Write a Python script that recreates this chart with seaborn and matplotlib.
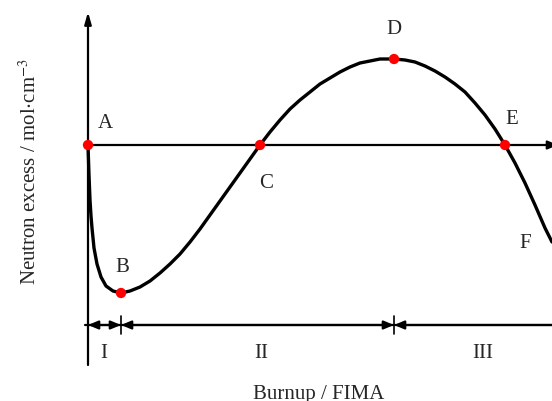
import matplotlib
matplotlib.use("Agg")
import matplotlib.pyplot as plt
import seaborn as sns
import pandas as pd

# Conceptual neutron-excess curve (arbitrary units)
burnup = [0, 1, 2, 3, 4, 6, 9, 13, 18, 25, 33, 42, 52, 62, 72, 82, 92, 102,
          112, 122, 132, 142, 152, 162, 172, 182, 192, 202, 212, 222, 232, 242,
          252, 262, 272, 282, 292, 306, 317, 327, 337, 347, 357, 367, 377, 387,
          397, 407, 417, 427, 437, 447, 457, 464]
excess = [0, -30, -55, -71, -83, -103, -119, -132, -141, -146, -148, -146,
          -142, -136, -128, -119, -109, -97, -84, -70, -56, -42, -28, -14, 0,
          13, 25, 36, 45, 53, 61, 67, 73, 78, 82, 84, 86, 86, 85, 83, 79, 74,
          68, 61, 53, 42, 30, 16, 0, -18, -38, -60, -83, -97]

# marked points
point_names = ["A", "B", "C", "D", "E"]
point_x = [0, 33, 172, 306, 417]
point_y = [0, -148, 0, 86, 0]

# letter labels
label_names = ["A", "B", "C", "D", "E", "F"]
label_x = [17, 34, 178, 306, 424, 437]
label_y = [22, -122, -38, 115, 26, -99]

# stage boundaries and names
stage_edges = [0, 33, 306, 464]
stage_names = ["I", "II", "III"]
stage_x = [16, 173, 395]

df = pd.DataFrame({"burnup": burnup, "excess": excess})
pts = pd.DataFrame({"burnup": point_x, "excess": point_y})

sns.set_style("white")
plt.rcParams["font.family"] = ["Liberation Serif", "DejaVu Serif"]
plt.rcParams["mathtext.fontset"] = "stix"

fig = plt.figure(figsize=(5.52, 4.01), dpi=100)
ax = fig.add_axes([0, 0, 1, 1])
ax.set_xlim(-88, 464)
ax.set_ylim(-256, 145)
ax.axis("off")

arrow_kw = dict(color="black", lw=1.6, shrinkA=0, shrinkB=0)

# axes drawn as arrows
ax.annotate("", xy=(0, 133), xytext=(0, -220), annotation_clip=False,
            arrowprops=dict(arrowstyle="-|>,head_length=0.7,head_width=0.2",
                            **arrow_kw))
ax.annotate("", xy=(470, 0), xytext=(0, 0), annotation_clip=False,
            arrowprops=dict(arrowstyle="-|>,head_length=0.6,head_width=0.25",
                            **arrow_kw))

# stage bar
yb = -180
ax.plot([-3, stage_edges[-1]], [yb, yb], color="black", lw=1.6)
for i in range(len(stage_names)):
    x0, x1 = stage_edges[i], stage_edges[i + 1]
    style = "<|-|>" if i < len(stage_names) - 1 else "<|-"
    ax.annotate("", xy=(x1, yb), xytext=(x0, yb), annotation_clip=False,
                arrowprops=dict(arrowstyle=style + ",head_length=0.6,head_width=0.25",
                                **arrow_kw))
    ax.text(stage_x[i], yb - 28, stage_names[i], ha="center", va="center",
            fontsize=15)
for xe in stage_edges[1:-1]:
    ax.plot([xe, xe], [yb + 9, yb - 9], color="black", lw=1.2)

# curve and points
sns.lineplot(data=df, x="burnup", y="excess", ax=ax, color="black", lw=2.4,
             sort=False)
sns.scatterplot(data=pts, x="burnup", y="excess", ax=ax, color="red", s=55,
                edgecolor="none", zorder=5, clip_on=False)

for name, x, y in zip(label_names, label_x, label_y):
    ax.text(x, y, name, ha="center", va="center", fontsize=15)

fig.text(30 / 552, 1 - 172 / 401, r"Neutron excess / mol$\cdot$cm$^{-3}$",
         rotation=90, ha="center", va="center", fontsize=15)
fig.text(319 / 552, 1 - 385 / 401, "Burnup / FIMA", ha="center", va="top",
         fontsize=15)

fig.savefig("out.png", dpi=100)
